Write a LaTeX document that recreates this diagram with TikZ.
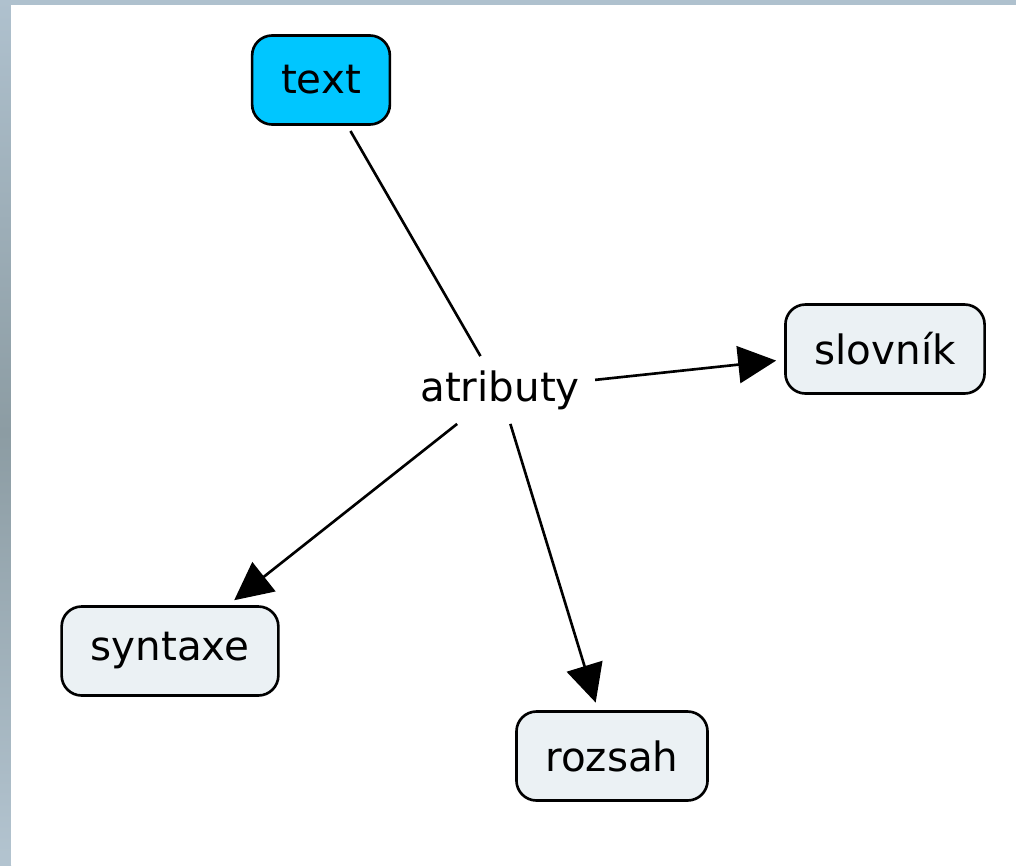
\documentclass[tikz,border=0pt]{standalone}
\usepackage{fontspec}
\setmainfont{DejaVu Sans}
\usetikzlibrary{arrows.meta}

\definecolor{conceptblue}{HTML}{00C6FF}
\definecolor{conceptgray}{HTML}{EBF1F4}
\definecolor{frametop}{HTML}{AFC1CE}
\definecolor{framemid}{HTML}{8C9CA3}
\definecolor{framelow}{HTML}{B3C4D0}

\tikzset{
  concept/.style={draw=black, line width=1.5pt, rounded corners=0.4cm,
    fill=conceptgray, minimum height=1.78cm, inner xsep=0.58cm,
    font=\fontsize{23}{27}\selectfont},
  linkword/.style={inner xsep=0.3cm, inner ysep=0.28cm,
    font=\fontsize{23}{27}\selectfont},
  link/.style={line width=1.5pt},
  linkarrow/.style={line width=1.5pt, -{Triangle[length=0.76cm,width=0.74cm]},
    shorten >=0.16cm}
}

\begin{document}
\begin{tikzpicture}[x=0.02cm,y=-0.02cm]

\useasboundingbox (0,0) rectangle (1016,865) ;

\shade[top color=frametop, bottom color=framelow, middle color=framemid] (0,0) rectangle (11,865) ;
\fill[frametop] (11,0) rectangle (1016,5) ;
\fill[white] (11,5) rectangle (1016,865) ;

\node[concept, fill=conceptblue] (txt) at (321,80) {text} ;
\node[linkword] (attr) at (500,390) {atributy} ;
\node[concept] (slov) at (885,349) {slovník} ;
\node[concept] (synt) at (170,651) {syntaxe} ;
\node[concept] (rozs) at (612,756) {rozsah} ;

\draw[link, shorten <=0.12cm] (txt) -- (attr) ;
\draw[linkarrow] (attr) -- (slov) ;
\draw[linkarrow] (attr) -- (synt) ;
\draw[linkarrow] (attr) -- (rozs) ;

\end{tikzpicture}
\end{document}
